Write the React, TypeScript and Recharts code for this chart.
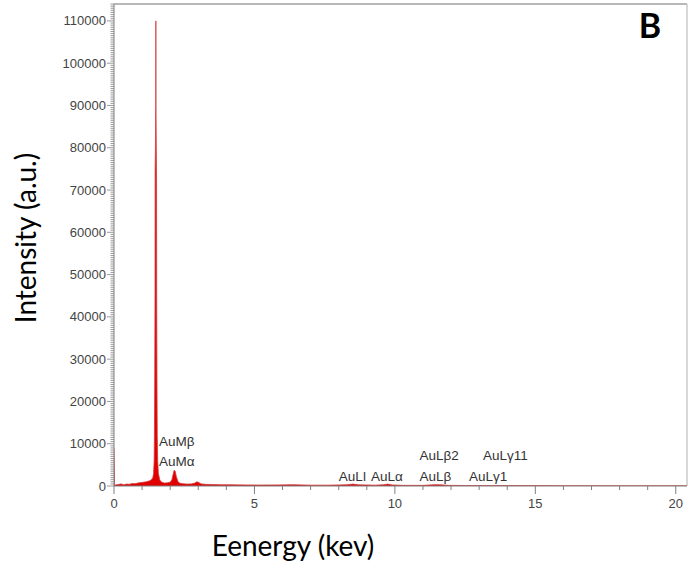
import React from 'react';
import { ComposedChart, Area, XAxis, YAxis, ReferenceLine, ReferenceDot } from 'recharts';

// Spectrum (energy in keV, intensity in counts)
const energy = [0, 0.02, 0.05, 0.15, 0.25, 0.35, 0.45, 0.55, 0.65, 0.75, 0.85, 0.95, 1.05, 1.15, 1.25, 1.32, 1.38, 1.41, 1.43, 1.44, 1.45, 1.46, 1.465, 1.475, 1.487, 1.49, 1.493, 1.505, 1.515, 1.52, 1.53, 1.54, 1.555, 1.58, 1.63, 1.7, 1.8, 1.9, 2.0, 2.06, 2.1, 2.14, 2.18, 2.22, 2.28, 2.35, 2.45, 2.6, 2.75, 2.88, 2.95, 3.02, 3.1, 3.25, 3.5, 3.8, 4.2, 4.7, 5.2, 5.8, 6.4, 7.0, 7.6, 8.0, 8.3, 8.5, 8.7, 9.0, 9.3, 9.6, 9.75, 9.9, 10.3, 11.0, 11.4, 11.6, 11.9, 12.5, 13.4, 14.5, 16, 18, 20.4];
const counts = [9000, 300, 250, 350, 500, 300, 450, 400, 600, 550, 700, 800, 900, 1000, 1200, 1400, 1900, 3000, 6000, 12000, 25000, 45000, 75000, 80000, 90000, 110000, 90000, 80000, 72000, 45000, 25000, 12000, 6000, 3000, 1400, 900, 700, 750, 900, 1500, 2600, 3700, 3500, 2200, 1000, 650, 550, 450, 500, 700, 1000, 800, 500, 400, 350, 300, 280, 250, 230, 250, 300, 200, 200, 250, 300, 450, 280, 250, 200, 300, 450, 250, 150, 150, 300, 300, 150, 120, 100, 100, 80, 60, 50];

// Axis ticks
const xMajorTicks = [0, 5, 10, 15, 20];
const xAllTicks = [0, 1, 2, 3, 4, 5, 6, 7, 8, 9, 10, 11, 12, 13, 14, 15, 16, 17, 18, 19, 20];
const yMajorTicks = [0, 10000, 20000, 30000, 40000, 50000, 60000, 70000, 80000, 90000, 100000, 110000];
const yMinorStep = 500;
const xMax = 20.4;
const yMax = 114000;

// Peak annotations
const annoLabels = ['AuMβ', 'AuMα', 'AuLl', 'AuLα', 'AuLβ2', 'AuLβ', 'AuLγ11', 'AuLγ1'];
const annoX = [1.57, 1.57, 7.97, 9.11, 10.84, 10.84, 13.1, 12.6];
const annoY = [10600, 5900, 2350, 2350, 7300, 2350, 7300, 2350];

const data = energy.map((e, i) => ({ energy: e, counts: counts[i] }));
const yAllTicks: number[] = [];
for (let v = 0; v <= yMax; v += yMinorStep) yAllTicks.push(v);

const tickFont = '"Liberation Sans", Arial, sans-serif';

const YTick = (props: any) => {
  const { x, y, payload } = props;
  const v = payload.value;
  const major = yMajorTicks.includes(v);
  return (
    <g>
      <line x1={x} x2={x - (major ? 7 : 3.5)} y1={y} y2={y} stroke="#808080" strokeWidth={0.8} />
      {major && (
        <text x={x - 8} y={y} dy={4.5} textAnchor="end" fontSize={13} fill="#444" fontFamily={tickFont}>
          {v}
        </text>
      )}
    </g>
  );
};

const XTick = (props: any) => {
  const { x, y, payload } = props;
  const v = payload.value;
  const major = xMajorTicks.includes(v);
  return (
    <g>
      <line x1={x} x2={x} y1={y} y2={y + (major ? 8 : 4)} stroke="#808080" strokeWidth={1} />
      {major && (
        <text x={x} y={y + 22} textAnchor="middle" fontSize={13} fill="#444" fontFamily={tickFont}>
          {v}
        </text>
      )}
    </g>
  );
};

export default function App() {
  return (
    <div style={{ position: 'absolute', left: 0, top: 0, width: 694, height: 563, overflow: 'hidden', background: '#fff' }}>
      <ComposedChart width={694} height={563} data={data} margin={{ top: 4, right: 7, left: 0, bottom: 0 }}>
        <XAxis
          dataKey="energy"
          type="number"
          domain={[0, xMax]}
          allowDataOverflow
          ticks={xAllTicks}
          interval={0}
          tick={<XTick />}
          tickLine={false}
          tickSize={0}
          tickMargin={0}
          height={77}
          axisLine={{ stroke: '#808080' }}
        />
        <YAxis
          type="number"
          domain={[0, yMax]}
          allowDataOverflow
          ticks={yAllTicks}
          interval={0}
          tick={<YTick />}
          tickLine={false}
          tickSize={0}
          tickMargin={0}
          width={114}
          axisLine={{ stroke: '#808080' }}
        />
        <ReferenceLine y={yMax} stroke="#a0a0a0" strokeWidth={1.5} ifOverflow="visible" />
        <ReferenceLine x={xMax} stroke="#b0b0b0" strokeWidth={1} ifOverflow="visible" />
        <Area
          type="linear"
          dataKey="counts"
          stroke="#d63a3a"
          strokeWidth={0.8}
          fill="#e00000"
          fillOpacity={1}
          isAnimationActive={false}
          dot={false}
          activeDot={false}
        />
        {annoLabels.map((t, i) => (
          <ReferenceDot
            key={t}
            x={annoX[i]}
            y={annoY[i]}
            r={1}
            fill="none"
            stroke="none"
            label={{ value: t, position: 'right', offset: 0, fontSize: 13.5, fill: '#333', fontFamily: tickFont }}
          />
        ))}
      </ComposedChart>
      <div
        style={{
          position: 'absolute',
          left: 25,
          top: 238,
          transform: 'translate(-50%, -50%) rotate(-90deg)',
          whiteSpace: 'nowrap',
          fontFamily: 'Lato, "Open Sans", sans-serif',
          fontSize: 28,
          lineHeight: '28px',
          color: '#000',
        }}
      >
        Intensity (a.u.)
      </div>
      <div
        style={{
          position: 'absolute',
          left: 293,
          top: 531,
          transform: 'translateX(-50%)',
          whiteSpace: 'nowrap',
          fontFamily: 'Lato, "Open Sans", sans-serif',
          fontSize: 28,
          lineHeight: '28px',
          color: '#000',
        }}
      >
        Eenergy (kev)
      </div>
      <div
        style={{
          position: 'absolute',
          left: 650,
          top: 25,
          transform: 'translate(-50%, -50%)',
          fontFamily: 'Lato, "Open Sans", sans-serif',
          fontWeight: 700,
          fontSize: 34,
          lineHeight: '34px',
          color: '#000',
        }}
      >
        B
      </div>
    </div>
  );
}
